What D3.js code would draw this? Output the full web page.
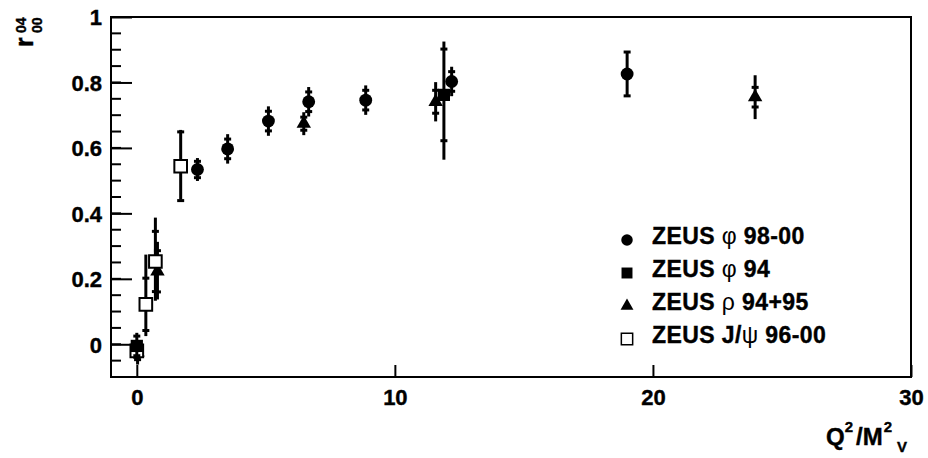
<!DOCTYPE html>
<html>
<head>
<meta charset="utf-8">
<script src="https://cdn.jsdelivr.net/npm/d3@7"></script>
<style>
html, body { margin: 0; padding: 0; background: #fff; overflow: hidden; }
svg { display: block; }
text { font-family: "Liberation Sans", Arial, sans-serif; font-weight: bold; fill: #000; stroke: #000; stroke-width: 0.4px; }
.greek { font-weight: normal; stroke-width: 0; }
</style>
</head>
<body>
<div id="chart"></div>
<script>
const width = 928, height = 458;
const margin = {top: 17, right: 17, bottom: 81, left: 111};
const innerWidth = width - margin.left - margin.right;
const innerHeight = height - margin.top - margin.bottom;

// ZEUS phi 98-00 (full circles)
const phi9800X = [2.35, 3.52, 5.1, 6.66, 8.87, 12.2, 19.0];
const phi9800Y = [0.534, 0.597, 0.682, 0.741, 0.746, 0.803, 0.826];
const phi9800Stat = [0.025, 0.03, 0.03, 0.03, 0.03, 0.03, 0.067];
const phi9800TotUp = [0.035, 0.045, 0.045, 0.045, 0.045, 0.045, 0.067];
const phi9800TotDn = [0.035, 0.045, 0.045, 0.045, 0.045, 0.045, 0.067];

// ZEUS phi 94 (full squares)
const phi94X = [0.0, 11.9];
const phi94Y = [-0.005, 0.762];
const phi94Stat = [0.03, 0.14];
const phi94TotUp = [0.04, 0.163];
const phi94TotDn = [0.04, 0.198];

// ZEUS rho 94+95 (full triangles)
const rhoX = [0.03, 0.8, 6.47, 11.58, 23.96];
const rhoY = [-0.025, 0.223, 0.674, 0.741, 0.755];
const rhoStat = [0.022, 0.063, 0.02, 0.035, 0.03];
const rhoTotUp = [0.037, 0.09, 0.035, 0.06, 0.067];
const rhoTotDn = [0.037, 0.086, 0.035, 0.06, 0.067];

// ZEUS J/psi 96-00 (open squares)
const jpsiX = [0.0, 0.35, 0.72, 1.7];
const jpsiY = [-0.02, 0.122, 0.253, 0.544];
const jpsiStat = [0.02, 0.08, 0.092, 0.105];
const jpsiTotUp = [0.03, 0.152, 0.134, 0.111];
const jpsiTotDn = [0.03, 0.097, 0.12, 0.102];

const xTicks = [0, 10, 20, 30];
const yTicks = [0, 0.2, 0.4, 0.6, 0.8, 1];
const yMinorTicks = d3.range(-0.05, 1.0001, 0.05);

const legendNames = [
    ["ZEUS ", "\u03c6", " 98-00"],
    ["ZEUS ", "\u03c6", " 94"],
    ["ZEUS ", "\u03c1", " 94+95"],
    ["ZEUS J/", "\u03c8", " 96-00"]
];

const makePoints = (xs, ys, stat, up, dn) =>
    xs.map((x, i) => ({x: x, y: ys[i], stat: stat[i], up: up[i], dn: dn[i]}));

const series = [
    {name: legendNames[2], marker: "triangle", points: makePoints(rhoX, rhoY, rhoStat, rhoTotUp, rhoTotDn)},
    {name: legendNames[3], marker: "open", points: makePoints(jpsiX, jpsiY, jpsiStat, jpsiTotUp, jpsiTotDn)},
    {name: legendNames[1], marker: "square", points: makePoints(phi94X, phi94Y, phi94Stat, phi94TotUp, phi94TotDn)},
    {name: legendNames[0], marker: "circle", points: makePoints(phi9800X, phi9800Y, phi9800Stat, phi9800TotUp, phi9800TotDn)}
];
const legendOrder = ["circle", "square", "triangle", "open"];

const xScale = d3.scaleLinear().domain([-1, 30]).range([0, innerWidth]);
const yScale = d3.scaleLinear().domain([-0.1, 1]).range([innerHeight, 0]);

const symbolFor = (m, small) => {
    const k = small ? 0.8 : 1;
    if (m === "circle") return d3.symbol(d3.symbolCircle, 130 * k)();
    if (m === "triangle") return d3.symbol(d3.symbolTriangle, 90 * k)();
    return d3.symbol(d3.symbolSquare, m === "open" ? 160 * k : 150 * k)();
};

const svg = d3.select("#chart")
    .append("svg")
    .attr("width", width)
    .attr("height", height);

const inner = svg.append("g")
    .attr("transform", `translate(${margin.left},${margin.top})`);

// Axes: ticks point inward, ROOT style
const bottomAxis = d3.axisBottom(xScale)
    .tickValues(xTicks)
    .tickSize(-12)
    .tickPadding(0)
    .tickFormat(d3.format("d"));
const xAxisG = inner.append("g")
    .attr("transform", `translate(0,${innerHeight})`)
    .call(bottomAxis)
    .attr("font-size", null)
    .attr("font-family", null);
xAxisG.select(".domain").remove();
xAxisG.selectAll(".tick line").attr("stroke-width", 2);
xAxisG.selectAll(".tick text")
    .attr("y", 28)
    .attr("dy", 0)
    .attr("font-size", 22);

const leftAxis = d3.axisLeft(yScale)
    .tickValues(yTicks)
    .tickSize(-21)
    .tickPadding(0)
    .tickFormat(d => d === 0 || d === 1 ? d3.format("d")(d) : d3.format(".1f")(d));
const yAxisG = inner.append("g")
    .call(leftAxis)
    .attr("font-size", null)
    .attr("font-family", null);
yAxisG.select(".domain").remove();
yAxisG.selectAll(".tick line").attr("stroke-width", 2);
yAxisG.selectAll(".tick text")
    .attr("x", -9)
    .attr("dy", "0.36em")
    .attr("font-size", 22);

inner.append("g")
    .selectAll("line")
    .data(yMinorTicks)
    .join("line")
    .attr("x1", 0)
    .attr("x2", 10)
    .attr("y1", d => yScale(d))
    .attr("y2", d => yScale(d))
    .attr("stroke", "#000")
    .attr("stroke-width", 2);

// Frame
inner.append("rect")
    .attr("width", innerWidth)
    .attr("height", innerHeight)
    .attr("fill", "none")
    .attr("stroke", "#000")
    .attr("stroke-width", 2);

// Data: total error line, stat error caps, then marker
series.forEach(s => {
    const g = inner.append("g");
    const pts = g.selectAll("g.pt")
        .data(s.points)
        .join("g")
        .attr("class", "pt");
    pts.append("line")
        .attr("x1", d => xScale(d.x))
        .attr("x2", d => xScale(d.x))
        .attr("y1", d => yScale(d.y + d.up))
        .attr("y2", d => yScale(d.y - d.dn))
        .attr("stroke", "#000")
        .attr("stroke-width", 3);
    [1, -1].forEach(sgn => {
        pts.append("line")
            .attr("x1", d => xScale(d.x) - 3.5)
            .attr("x2", d => xScale(d.x) + 3.5)
            .attr("y1", d => yScale(d.y + sgn * d.stat))
            .attr("y2", d => yScale(d.y + sgn * d.stat))
            .attr("stroke", "#000")
            .attr("stroke-width", 3);
    });
    pts.append("path")
        .attr("d", symbolFor(s.marker, false))
        .attr("transform", d => `translate(${xScale(d.x)},${yScale(d.y)})`)
        .attr("fill", s.marker === "open" ? "#fff" : "#000")
        .attr("stroke", "#000")
        .attr("stroke-width", s.marker === "open" ? 2 : 0);
});

// Legend
const legend = svg.append("g")
    .attr("transform", "translate(627, 240)");
legendOrder.forEach((m, i) => {
    const s = series.find(d => d.marker === m);
    const row = legend.append("g")
        .attr("transform", `translate(0, ${i * 33})`);
    row.append("path")
        .attr("d", symbolFor(m, true))
        .attr("fill", m === "open" ? "#fff" : "#000")
        .attr("stroke", "#000")
        .attr("stroke-width", m === "open" ? 1.5 : 0);
    const t = row.append("text")
        .attr("x", 25)
        .attr("y", 4)
        .attr("font-size", 23)
        .attr("letter-spacing", 0.4);
    t.append("tspan").text(s.name[0]);
    t.append("tspan").attr("class", "greek").text(s.name[1]);
    t.append("tspan").text(s.name[2]);
});

// x axis title: Q^2/M_V^2
const xTitle = svg.append("text")
    .attr("x", 826)
    .attr("y", 445)
    .attr("font-size", 24);
xTitle.append("tspan").text("Q");
xTitle.append("tspan").attr("dy", -13).attr("font-size", 15).text("2");
xTitle.append("tspan").attr("dy", 13).attr("dx", 3).text("/M");
xTitle.append("tspan").attr("dy", -13).attr("dx", 1).attr("font-size", 15).text("2");
svg.append("text")
    .attr("x", 897)
    .attr("y", 452)
    .attr("font-size", 15)
    .text("V");

// y axis title: r_00^04
const yTitle = svg.append("g")
    .attr("transform", "translate(33,47) rotate(-90)");
yTitle.append("text").attr("x", 0).attr("y", 0).attr("font-size", 25).text("r");
yTitle.append("text").attr("x", 14).attr("y", -7).attr("font-size", 14).text("04");
yTitle.append("text").attr("x", 14).attr("y", 9).attr("font-size", 14).text("00");
</script>
</body>
</html>
